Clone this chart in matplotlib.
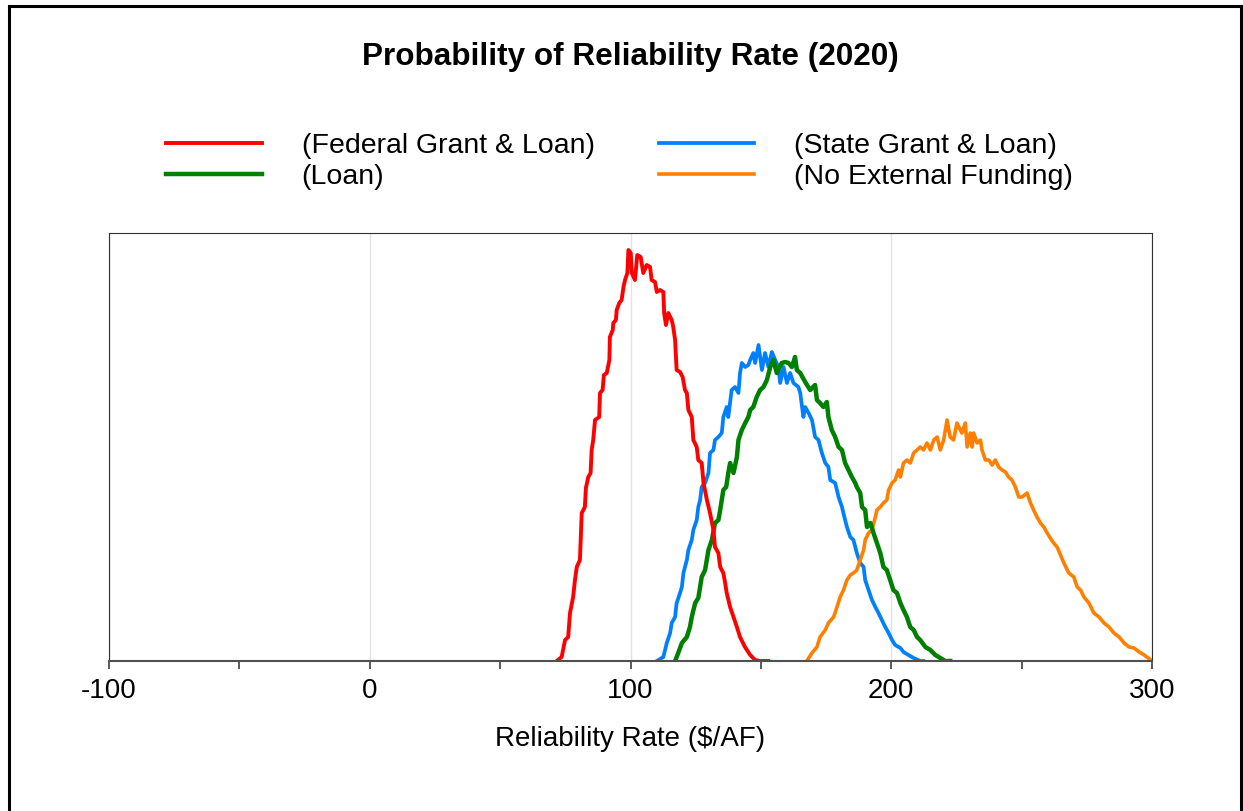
import matplotlib
matplotlib.use("Agg")
import matplotlib.pyplot as plt
from matplotlib.lines import Line2D
from matplotlib.ticker import MultipleLocator

plt.rcParams['font.family'] = ['Liberation Sans', 'DejaVu Sans']
plt.rcParams['axes.unicode_minus'] = False

# ---- datos (x en $/AF, y = frecuencia relativa, sin escala) ----
fed_x = [71.7, 73.6, 74.9, 76.1, 76.8, 78.0, 78.7, 79.4, 80.6, 80.9, 81.3, 82.5, 82.9, 83.8,
         84.7, 85.1, 85.7, 86.4, 88.0, 88.3, 89.3, 89.8, 90.9, 91.9, 92.1, 93.2, 93.4, 94.4,
         94.7, 95.7, 96.6, 97.3, 97.9, 98.8, 99.2, 100.1, 100.5, 101.7, 102.6, 103.9, 104.9,
         106.2, 107.5, 108.1, 109.4, 110.1, 111.3, 112.6, 112.9, 113.6, 114.5, 115.8, 116.4,
         117.1, 117.7, 119.0, 120.0, 120.9, 121.6, 122.2, 123.5, 124.1, 125.4, 126.0, 127.3,
         128.0, 129.3, 130.5, 131.8, 132.4, 133.7, 134.4, 135.6, 136.3, 136.9, 138.2, 139.5,
         140.8, 142.0, 143.9, 145.9, 147.8, 149.7, 152.8]
fed_y = [0, 4, 21, 24, 48, 64, 81, 94, 101, 121, 148, 154, 173, 184,
         188, 211, 221, 241, 244, 268, 271, 286, 288, 301, 324, 331, 338, 341,
         351, 358, 361, 374, 381, 388, 411, 408, 388, 381, 406, 404, 388,
         396, 394, 381, 379, 369, 371, 369, 348, 336, 348, 341, 334,
         321, 291, 289, 284, 271, 268, 251, 244, 221, 214, 201, 198,
         178, 161, 148, 131, 114, 108, 94, 88, 78, 68, 54, 44,
         34, 24, 14, 6, 1, 0, 0]

loan_x = [117.1, 118.3, 119.7, 121.6, 122.8, 123.5, 124.8, 126.0, 126.7, 127.3, 128.6, 129.9,
          131.2, 132.4, 133.7, 134.4, 135.6, 136.7, 137.5, 138.2, 139.5, 140.8, 141.4, 142.7,
          144.0, 145.2, 145.9, 147.1, 148.4, 149.7, 151.0, 152.3, 153.6, 154.8, 156.1, 158.0,
          159.3, 160.6, 161.9, 163.1, 163.8, 165.1, 167.0, 168.9, 170.8, 171.5, 172.7, 174.0,
          175.3, 175.9, 177.2, 178.5, 179.8, 181.1, 182.3, 183.6, 184.9, 186.2, 186.8, 188.1,
          188.8, 190.0, 190.7, 192.0, 193.2, 194.5, 195.8, 197.0, 198.3, 199.6, 200.8, 202.2,
          203.5, 204.7, 206.0, 207.3, 208.6, 209.9, 211.1, 213.1, 215.0, 216.9, 218.8, 220.7,
          222.6]
loan_y = [0, 8, 18, 24, 34, 44, 58, 63, 74, 84, 91, 111,
          121, 138, 141, 151, 171, 174, 188, 198, 188, 204, 221, 231,
          238, 244, 251, 254, 264, 271, 274, 281, 294, 301, 288, 298,
          299, 298, 294, 304, 291, 288, 279, 271, 276, 261, 258, 254,
          259, 244, 231, 224, 214, 211, 198, 191, 184, 178, 174, 168,
          154, 151, 134, 138, 128, 118, 108, 94, 91, 81, 71, 68,
          58, 51, 44, 34, 31, 24, 21, 14, 11, 6, 3, 0,
          0]

state_x = [110.1, 112.6, 113.9, 115.2, 115.8, 117.1, 117.7, 119.0, 119.7, 120.3, 121.6, 122.2,
           123.5, 124.1, 125.4, 126.0, 126.7, 127.3, 128.6, 129.9, 130.5, 131.8, 132.4, 133.7,
           135.0, 135.6, 136.9, 137.5, 138.8, 140.1, 141.4, 142.0, 142.7, 144.0, 145.2, 145.9,
           147.1, 147.8, 149.1, 150.4, 151.6, 152.9, 154.2, 155.5, 156.7, 157.4, 158.7, 160.0,
           161.2, 162.5, 164.4, 165.1, 166.3, 167.0, 168.3, 169.6, 170.8, 172.1, 173.4, 174.7,
           175.9, 176.6, 178.5, 179.8, 181.1, 182.3, 183.0, 184.3, 185.5, 186.8, 188.1, 189.4,
           190.0, 191.3, 192.6, 193.9, 195.1, 196.4, 197.7, 199.0, 200.3, 201.5, 203.5, 204.7,
           206.6, 208.6, 211.1, 212.3]
state_y = [0, 4, 18, 28, 38, 44, 58, 68, 74, 88, 101, 111,
           121, 131, 141, 154, 161, 174, 178, 188, 208, 211, 221, 224,
           228, 244, 254, 244, 271, 274, 268, 288, 298, 294, 296, 301,
           308, 298, 316, 291, 308, 294, 309, 301, 294, 278, 294, 278,
           288, 278, 274, 268, 244, 254, 248, 241, 224, 221, 208, 198,
           194, 181, 178, 164, 154, 141, 134, 124, 121, 108, 98, 94,
           81, 71, 61, 54, 48, 41, 34, 28, 21, 16, 13, 9,
           6, 3, 0, 0]

none_x = [167.6, 169.6, 171.5, 172.7, 174.7, 175.9, 177.9, 179.2, 180.4, 181.7, 183.0, 184.3,
          185.5, 186.8, 188.1, 189.4, 190.0, 191.3, 192.6, 193.9, 194.5, 195.8, 197.0, 198.3,
          199.0, 200.3, 201.5, 202.8, 203.5, 204.7, 206.0, 207.3, 208.6, 209.9, 211.1, 212.4,
          213.7, 215.0, 216.3, 217.6, 218.8, 220.1, 221.4, 222.6, 223.9, 225.2, 226.5, 227.1,
          228.4, 229.1, 230.3, 231.0, 231.6, 232.9, 234.2, 234.8, 236.1, 237.4, 238.7, 239.9,
          241.2, 242.5, 243.8, 245.0, 246.3, 247.6, 248.9, 250.2, 252.1, 253.4, 254.6, 255.9,
          257.2, 258.5, 259.8, 261.0, 262.3, 263.6, 264.9, 266.2, 268.1, 270.0, 271.3, 272.6,
          273.9, 275.8, 277.7, 279.7, 281.6, 283.5, 285.4, 287.4, 289.3, 291.2, 293.1, 295.1,
          297.0, 299.6]
none_y = [0, 8, 14, 24, 31, 38, 44, 54, 64, 71, 81, 86,
          88, 91, 101, 111, 121, 128, 131, 144, 151, 154, 158, 161,
          171, 178, 181, 191, 184, 198, 201, 198, 208, 211, 214, 211,
          218, 211, 221, 224, 211, 221, 241, 224, 221, 238, 231, 228,
          238, 214, 228, 214, 228, 218, 221, 211, 201, 201, 196, 201,
          194, 191, 189, 184, 181, 174, 164, 164, 168, 158, 151, 144,
          138, 134, 128, 123, 118, 114, 106, 98, 88, 84, 74, 71,
          64, 58, 48, 44, 38, 34, 28, 24, 18, 14, 13, 9,
          6, 1]

x_ticks = [-100, 0, 100, 200, 300]

# ---- figura ----
fig = plt.figure(figsize=(12.43, 8.11), dpi=100)
ax = fig.add_axes([109 / 1243, 1 - 661 / 811, (1152 - 109) / 1243, (661 - 233) / 811])

l_state, = ax.plot(state_x, state_y, color='#0080FF', lw=2.7)
l_none, = ax.plot(none_x, none_y, color='#FF8000', lw=2.6)
l_loan, = ax.plot(loan_x, loan_y, color='#008000', lw=3.2)
l_fed, = ax.plot(fed_x, fed_y, color='#FF0000', lw=2.8)

ax.set_xlim(-100, 300)
ax.set_ylim(0, 428)
ax.set_xticks(x_ticks)
ax.xaxis.set_minor_locator(MultipleLocator(50))
ax.set_yticks([])
ax.tick_params(axis='x', which='both', direction='out', length=6, width=1.2,
               color='#404040', labelsize=20, pad=6)
ax.grid(True, axis='x', which='major', color='#e3e3e3', lw=1)
ax.set_axisbelow(True)
for s in ['top', 'left', 'right']:
    ax.spines[s].set_color('#303030')
    ax.spines[s].set_linewidth(0.8)
ax.spines['bottom'].set_color('#505050')
ax.spines['bottom'].set_linewidth(1.5)

ax.set_xlabel('Reliability Rate ($/AF)', fontsize=20, labelpad=16)
fig.text(0.507, 1 - 57 / 811, 'Probability of Reliability Rate (2020)',
         ha='center', va='center', fontsize=22.7, fontweight='bold')

fig.legend([l_fed, l_loan, l_state, l_none],
           ['(Federal Grant & Loan)', '(Loan)', '(State Grant & Loan)', '(No External Funding)'],
           loc='center', bbox_to_anchor=(0.4985, 1 - 161.5 / 811), ncol=2, frameon=False,
           fontsize=20.5, handlelength=3.35, handletextpad=1.4, columnspacing=2.25,
           labelspacing=0.18)

# marco exterior de la figura
W, H = 1243, 811
for xs, ys in [([8.5, 8.5], [0, 5.5]), ([8.5, 1240.5], [5.5, 5.5]), ([1240.5, 1240.5], [5.5, 0])]:
    fig.add_artist(Line2D([x / W for x in xs], [1 - y / H if y else 0 for y in ys],
                          color='black', lw=2.2))

fig.savefig('out.png', dpi=100)
